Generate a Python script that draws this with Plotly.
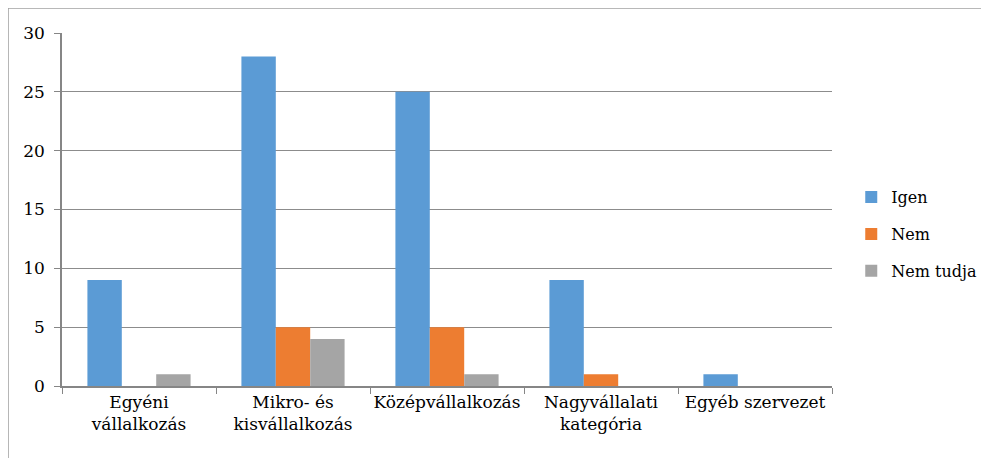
import plotly.graph_objects as go

categories = ["Egyéni<br>vállalkozás", "Mikro- és<br>kisvállalkozás", "Középvállalkozás",
              "Nagyvállalati<br>kategória", "Egyéb szervezet"]
series_names = ["Igen", "Nem", "Nem tudja"]
igen = [9, 28, 25, 9, 1]
nem = [0, 5, 5, 1, 0]
nem_tudja = [1, 4, 1, 0, 0]
colors = ["#5B9BD5", "#ED7D31", "#A5A5A5"]
y_ticks = [0, 5, 10, 15, 20, 25, 30]

fig = go.Figure()
for name, vals, col in zip(series_names, [igen, nem, nem_tudja], colors):
    fig.add_trace(go.Bar(x=categories, y=vals, name=name, marker_color=col,
                         marker_line_width=0, legendgroup=name))

fig.update_layout(
    width=981, height=450,
    margin=dict(l=54, r=157, t=25, b=72, autoexpand=False),
    paper_bgcolor="white", plot_bgcolor="white",
    barmode="group", bargap=0.33, bargroupgap=0,
    font_family="DejaVu Serif", font_size=17, font_color="#000000",
    showlegend=True,
    legend=dict(x=1.025, y=0.43, xanchor="left", yanchor="middle",
                itemwidth=30, tracegroupgap=13,
                font=dict(family="DejaVu Serif", size=16, color="#000000"),
                bgcolor="rgba(0,0,0,0)"),
    xaxis=dict(showline=True, linecolor="#868686", linewidth=1.5,
               ticks="outside", tickson="boundaries", ticklen=6, tickcolor="#868686",
               showgrid=False, tickangle=0, automargin=False),
    yaxis=dict(range=[0, 30], tickvals=y_ticks, showline=True, linecolor="#868686",
               linewidth=1.5, ticks="outside", ticklen=6, tickcolor="#868686",
               showgrid=True, gridcolor="#8C8C8C", gridwidth=1, zeroline=False,
               ticklabelstandoff=6, automargin=False),
    shapes=[
        dict(type="line", xref="paper", yref="paper", x0=-0.0701, x1=1.3,
             y0=1.0708, y1=1.0708, line=dict(color="#A0A0A0", width=1.5)),
        dict(type="line", xref="paper", yref="paper", x0=-0.0701, x1=-0.0701,
             y0=1.0708, y1=-0.3, line=dict(color="#A0A0A0", width=1.5)),
    ],
)

fig.write_html("out.html")
